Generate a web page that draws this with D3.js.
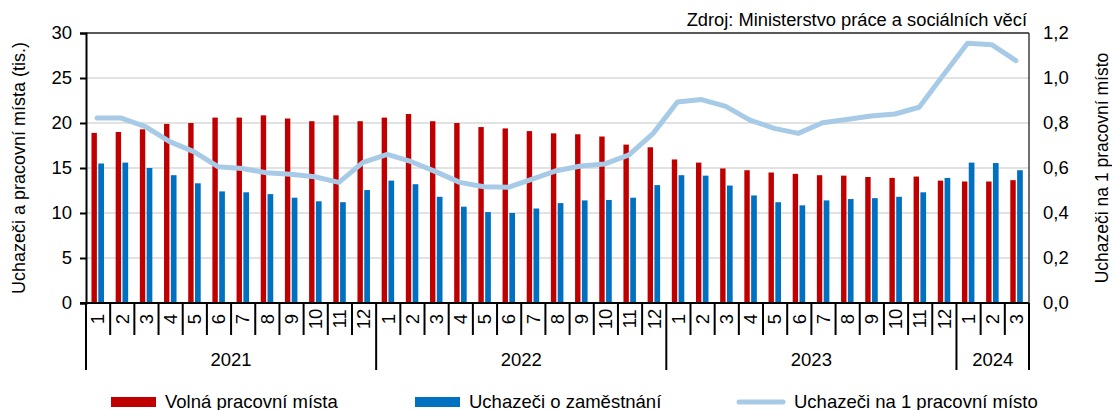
<!DOCTYPE html>
<html>
<head>
<meta charset="utf-8">
<script src="https://cdn.jsdelivr.net/npm/d3@7"></script>
<style>
  body { margin: 0; background: #fff; }
  text { font-family: "Liberation Sans", Arial, sans-serif; fill: #000; }
</style>
</head>
<body>
<div id="chart"></div>
<script>
var width = 1112, height = 410;
var plotLeft = 86, plotRight = 1029, plotTop = 33, plotBottom = 303;

// months 2021-01 .. 2024-03
var years = [2021, 2022, 2023, 2024];
var monthsPerYear = [12, 12, 12, 3];

// Volná pracovní místa (tis.)
var vacancies = [
    18.9, 19.0, 19.3, 19.9, 20.0, 20.6, 20.6, 20.85, 20.5, 20.2, 20.85, 20.2,
    20.6, 21.0, 20.2, 20.0, 19.55, 19.4, 19.1, 18.85, 18.75, 18.5, 17.6, 17.3,
    15.95, 15.6, 14.95, 14.75, 14.5, 14.35, 14.2, 14.15, 14.0, 13.9, 14.05, 13.6,
    13.5, 13.5, 13.65
];
// Uchazeči o zaměstnání (tis.)
var applicants = [
    15.5, 15.6, 15.0, 14.2, 13.3, 12.4, 12.3, 12.1, 11.7, 11.3, 11.2, 12.55,
    13.6, 13.2, 11.8, 10.7, 10.1, 10.0, 10.5, 11.1, 11.4, 11.45, 11.7, 13.1,
    14.2, 14.15, 13.05, 11.95, 11.2, 10.85, 11.4, 11.55, 11.65, 11.8, 12.3, 13.9,
    15.6, 15.55, 14.75
];
// Uchazeči na 1 pracovní místo
var ratio = [
    0.822, 0.822, 0.784, 0.717, 0.673, 0.606, 0.598, 0.579, 0.572, 0.561, 0.536, 0.625,
    0.661, 0.628, 0.584, 0.536, 0.517, 0.514, 0.551, 0.588, 0.609, 0.618, 0.658, 0.754,
    0.893, 0.904, 0.874, 0.813, 0.776, 0.754, 0.801, 0.816, 0.831, 0.840, 0.870, 1.013,
    1.154, 1.148, 1.077
];
var leftTicks = [0, 5, 10, 15, 20, 25, 30];
var rightTicks = [0, 0.2, 0.4, 0.6, 0.8, 1.0, 1.2];

var red = "#C00000", blue = "#0070C0", lineClr = "#A7CBE7";
var fs = "18.5px";

// build month list
var months = [];
years.forEach(function (yr, yi) {
    for (var m = 1; m <= monthsPerYear[yi]; m++) {
        months.push({ year: yr, month: m, key: yr + "-" + m });
    }
});
months.forEach(function (d, i) {
    d.vac = vacancies[i];
    d.app = applicants[i];
    d.ratio = ratio[i];
});

var svg = d3.select("#chart").append("svg")
    .attr("width", width)
    .attr("height", height);

var x = d3.scaleBand()
    .domain(months.map(function (d) { return d.key; }))
    .range([plotLeft, plotRight]);
var bw = x.bandwidth();

var y = d3.scaleLinear().domain([0, 30]).range([plotBottom, plotTop]);
var y2 = d3.scaleLinear().domain([0, 1.2]).range([plotBottom, plotTop]);

// gridlines
svg.append("g")
    .selectAll("line")
    .data(leftTicks.slice(1, -1))
    .enter().append("line")
    .attr("x1", plotLeft).attr("x2", plotRight)
    .attr("y1", function (d) { return y(d); })
    .attr("y2", function (d) { return y(d); })
    .attr("stroke", "#d9d9d9")
    .attr("stroke-width", 1.3);

// bars
var barW = 5.4;
svg.append("g")
    .selectAll("rect")
    .data(months)
    .enter().append("rect")
    .attr("x", function (d) { return x(d.key) + bw / 2 - 6.6; })
    .attr("width", barW)
    .attr("y", function (d) { return y(d.vac); })
    .attr("height", function (d) { return plotBottom - y(d.vac); })
    .attr("fill", red);

svg.append("g")
    .selectAll("rect")
    .data(months)
    .enter().append("rect")
    .attr("x", function (d) { return x(d.key) + bw / 2 + 0.2; })
    .attr("width", barW + 0.3)
    .attr("y", function (d) { return y(d.app); })
    .attr("height", function (d) { return plotBottom - y(d.app); })
    .attr("fill", blue);

// ratio line
var line = d3.line()
    .x(function (d) { return x(d.key) + bw / 2 - 1; })
    .y(function (d) { return y2(d.ratio); });

svg.append("path")
    .datum(months)
    .attr("d", line)
    .attr("fill", "none")
    .attr("stroke", lineClr)
    .attr("stroke-width", 5)
    .attr("stroke-linejoin", "round")
    .attr("stroke-linecap", "round");

// frame: top and right borders
svg.append("line")
    .attr("x1", plotLeft).attr("x2", plotRight)
    .attr("y1", plotTop).attr("y2", plotTop)
    .attr("stroke", "#222").attr("stroke-width", 1.3);
svg.append("line")
    .attr("x1", plotRight).attr("x2", plotRight)
    .attr("y1", plotTop).attr("y2", plotBottom)
    .attr("stroke", "#222").attr("stroke-width", 1.3);

// left axis
var yAxis = svg.append("g")
    .attr("transform", "translate(" + plotLeft + ",0)")
    .call(d3.axisLeft(y).tickValues(leftTicks).tickSize(6).tickPadding(8));
yAxis.select(".domain").attr("stroke", "#000").attr("stroke-width", 2);
yAxis.selectAll(".tick line").attr("stroke", "#000").attr("stroke-width", 2);
yAxis.selectAll("text").style("font-size", fs)
    .style("font-family", "Liberation Sans, Arial, sans-serif");

// right axis (labels only)
var yAxis2 = svg.append("g")
    .attr("transform", "translate(" + plotRight + ",0)")
    .call(d3.axisRight(y2).tickValues(rightTicks).tickSize(0).tickPadding(14)
        .tickFormat(function (d) { return d3.format(".1f")(d).replace(".", ","); }));
yAxis2.select(".domain").remove();
yAxis2.selectAll("text").style("font-size", fs)
    .style("font-family", "Liberation Sans, Arial, sans-serif");

// bottom axis line
svg.append("line")
    .attr("x1", plotLeft - 6).attr("x2", plotRight)
    .attr("y1", plotBottom).attr("y2", plotBottom)
    .attr("stroke", "#000").attr("stroke-width", 2);

// month separators and labels
var xg = svg.append("g");
months.forEach(function (d, i) {
    var x0 = x(d.key);
    var yearStart = d.month === 1;
    xg.append("line")
        .attr("x1", x0).attr("x2", x0)
        .attr("y1", plotBottom)
        .attr("y2", yearStart ? 370 : 335)
        .attr("stroke", "#000").attr("stroke-width", 2);
    xg.append("text")
        .attr("transform", "translate(" + (x0 + bw / 2 + 6.3) + ",319) rotate(-90)")
        .attr("text-anchor", "middle")
        .style("font-size", fs)
        .text(d.month);
});
xg.append("line")
    .attr("x1", plotRight).attr("x2", plotRight)
    .attr("y1", plotBottom).attr("y2", 370)
    .attr("stroke", "#000").attr("stroke-width", 2);

// year labels
var idx = 0;
years.forEach(function (yr, yi) {
    var first = months[idx].key;
    var last = months[idx + monthsPerYear[yi] - 1].key;
    var cx = (x(first) + x(last) + bw) / 2;
    xg.append("text")
        .attr("x", cx).attr("y", 366)
        .attr("text-anchor", "middle")
        .style("font-size", fs)
        .text(yr);
    idx += monthsPerYear[yi];
});

// axis titles
svg.append("text")
    .attr("transform", "translate(25," + (plotTop + plotBottom) / 2 + ") rotate(-90)")
    .attr("text-anchor", "middle")
    .style("font-size", "18px")
    .text("Uchazeči a pracovní místa (tis.)");
svg.append("text")
    .attr("transform", "translate(1108," + (plotTop + plotBottom) / 2 + ") rotate(-90)")
    .attr("text-anchor", "middle")
    .style("font-size", "17.5px")
    .text("Uchazeči na 1 pracovní místo");

// source
svg.append("text")
    .attr("x", 1027).attr("y", 26)
    .attr("text-anchor", "end")
    .style("font-size", "18.3px")
    .text("Zdroj: Ministerstvo práce a sociálních věcí");

// legend
var legend = [
    { name: "Volná pracovní místa", type: "rect", color: red, x: 111 },
    { name: "Uchazeči o zaměstnání", type: "rect", color: blue, x: 415 },
    { name: "Uchazeči na 1 pracovní místo", type: "line", color: lineClr, x: 737 }
];
var lg = svg.append("g");
legend.forEach(function (d) {
    if (d.type === "rect") {
        lg.append("rect")
            .attr("x", d.x).attr("y", 397)
            .attr("width", 45).attr("height", 10)
            .attr("fill", d.color);
    } else {
        lg.append("line")
            .attr("x1", d.x + 2).attr("x2", d.x + 46)
            .attr("y1", 402).attr("y2", 402)
            .attr("stroke", d.color).attr("stroke-width", 5)
            .attr("stroke-linecap", "round");
    }
    lg.append("text")
        .attr("x", d.x + (d.type === "rect" ? 54 : 57))
        .attr("y", 408)
        .style("font-size", fs)
        .text(d.name);
});
</script>
</body>
</html>
